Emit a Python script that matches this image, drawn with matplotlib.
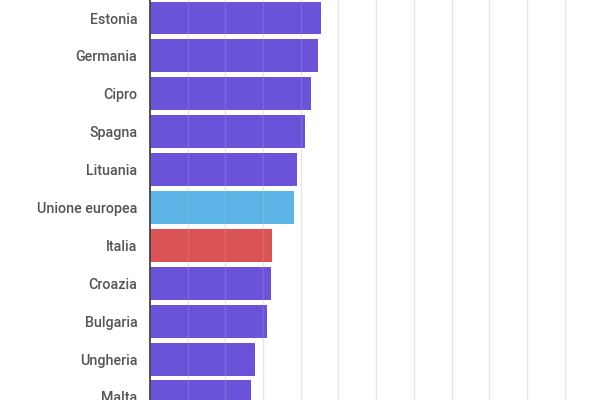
import matplotlib
matplotlib.use("Agg")
import matplotlib.pyplot as plt

# Values (one gridline = 1 unit)
countries = ["Estonia", "Germania", "Cipro", "Spagna", "Lituania", "Unione europea",
             "Italia", "Croazia", "Bulgaria", "Ungheria", "Malta"]
values = [4.55, 4.47, 4.26, 4.10, 3.90, 3.83, 3.25, 3.22, 3.10, 2.79, 2.68]

PURPLE = "#6a52d9"
BLUE = "#5bb4e5"
RED = "#da5355"
colors = [BLUE if c == "Unione europea" else RED if c == "Italia" else PURPLE for c in countries]

plt.rcParams['font.family'] = ['Roboto', 'DejaVu Sans']

fig = plt.figure(figsize=(6, 4), dpi=100)
ax = fig.add_axes([0.25, 0.0, 0.75, 1.0])

y = list(range(len(countries)))
ax.barh(y, values, height=0.87, color=colors, zorder=2)

# light vertical gridlines, drawn faintly over the bars as in the original
for x in range(1, 12):
    ax.axvline(x, color="#e4e4e4", linewidth=1, zorder=1)
    ax.axvline(x, color="white", linewidth=1, alpha=0.12, zorder=3)

ax.set_xlim(0, 11.94)
ax.set_ylim(10.08, -0.475)
ax.set_yticks(y)
ax.set_yticklabels(countries, fontsize=10.3, color="#555555", fontweight="medium")
ax.tick_params(axis="y", length=0, pad=9)
ax.set_xticks([])

for side in ["top", "right", "bottom"]:
    ax.spines[side].set_visible(False)
ax.spines["left"].set_color("#444444")
ax.spines["left"].set_linewidth(1.3)
ax.spines["left"].set_zorder(4)

fig.savefig("out.png", dpi=100)
